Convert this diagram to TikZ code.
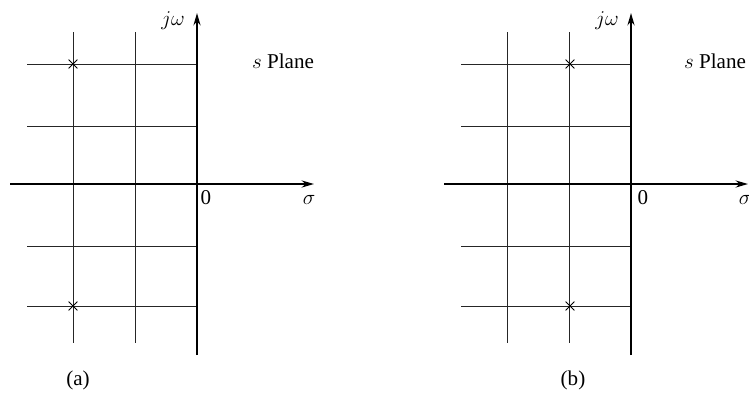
\documentclass[tikz,border=0pt]{standalone}
\usepackage{fontspec}
\setmainfont{Liberation Serif}
\usetikzlibrary{arrows.meta,shapes.misc}
\begin{document}
\begin{tikzpicture}[x=0.02cm,y=-0.02cm,
  font=\fontsize{12}{14}\selectfont,
  gridline/.style={line width=0.5pt,black!85},
  axisline/.style={line width=1.1pt,black},
  axisarrow/.style={axisline,-{Stealth[length=7pt,width=4pt]}},
  pole/.style={cross out,draw,line width=0.5pt,minimum size=4.5pt,inner sep=0pt},
  lbl/.style={inner sep=0pt}]
\fill[white] (0,0) rectangle (749,399);
\useasboundingbox (0,0) rectangle (749,399);
\foreach \dx/\cx/\px/\zx/\sx/\nm in {0/73/283/206/309/a,434/136/281/209/311/b}{
  \begin{scope}[shift={(\dx,0)}]
    \coordinate (O\nm) at (197,184);
    \coordinate (L\nm) at (10,184);
    \coordinate (R\nm) at (314,184);
    \coordinate (B\nm) at (197,355);
    \coordinate (T\nm) at (197,13);
    \foreach \y in {64,126,246,306} \draw[gridline] (27,\y) -- (197,\y);
    \foreach \x in {73,135} \draw[gridline] (\x,32) -- (\x,343);
    \draw[axisarrow] (L\nm) -- (R\nm);
    \draw[axisarrow] (B\nm) -- (T\nm);
    \node[pole] (P1\nm) at (\cx,64) {};
    \node[pole] (P2\nm) at (\cx,306) {};
    \node[lbl] (jw\nm) at (173,21) {$j\omega$};
    \node[lbl] (sp\nm) at (\px,61) {$s$ Plane};
    \node[lbl] (z\nm) at (\zx,198) {0};
    \node[lbl] (sig\nm) at (\sx,200) {$\sigma$};
  \end{scope}
}
\node[lbl] (capa) at (78,380) {(a)};
\node[lbl] (capb) at (573,380) {(b)};
\end{tikzpicture}
\end{document}
